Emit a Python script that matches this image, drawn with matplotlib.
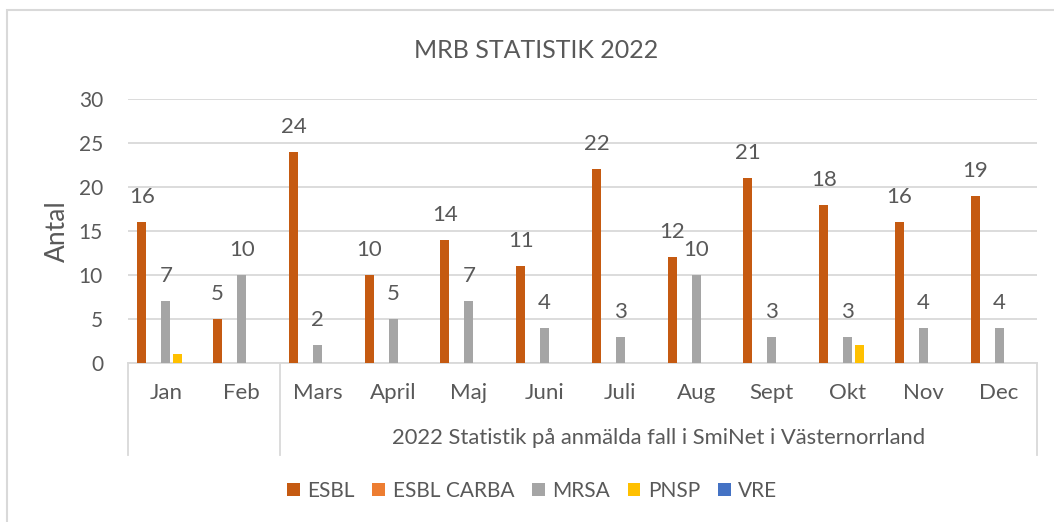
import matplotlib
matplotlib.use("Agg")
import matplotlib.pyplot as plt
import matplotlib.transforms as mtransforms
from matplotlib.lines import Line2D
from matplotlib.patches import Rectangle, Patch
import numpy as np

months = ["Jan", "Feb", "Mars", "April", "Maj", "Juni", "Juli", "Aug", "Sept", "Okt", "Nov", "Dec"]
group_label = "2022 Statistik på anmälda fall i SmiNet i Västernorrland"
series_names = ["ESBL", "ESBL CARBA", "MRSA", "PNSP", "VRE"]
esbl = [16, 5, 24, 10, 14, 11, 22, 12, 21, 18, 16, 19]
esbl_carba = [0, 0, 0, 0, 0, 0, 0, 0, 0, 0, 0, 0]
mrsa = [7, 10, 2, 5, 7, 4, 3, 10, 3, 3, 4, 4]
pnsp = [1, 0, 0, 0, 0, 0, 0, 0, 0, 2, 0, 0]
vre = [0, 0, 0, 0, 0, 0, 0, 0, 0, 0, 0, 0]
colors = ["#C55A11", "#ED7D31", "#A5A5A5", "#FFC000", "#4472C4"]
labeled = [True, False, True, False, False]

plt.rcParams['font.family'] = ['Lato', 'DejaVu Sans']
txt = "#595959"
grid = "#D9D9D9"
FS = 15

W, H = 1054, 522
fig = plt.figure(figsize=(W / 100, H / 100), dpi=100)
L, R, T, B = 128, 1037, 99, 363
ax = fig.add_axes([L / W, 1 - B / H, (R - L) / W, (B - T) / H])

x = np.arange(len(months))
slot = 0.158
bw = 0.12
all_series = [esbl, esbl_carba, mrsa, pnsp, vre]
for i, (vals, c, lab) in enumerate(zip(all_series, colors, labeled)):
    pos = x + (i - 2) * slot
    ax.bar(pos, vals, width=bw, color=c, zorder=3)
    if lab:
        for p, v in zip(pos, vals):
            if v:
                ax.annotate(str(v), (p, v), xytext=(0, 18), textcoords="offset points",
                            ha="center", va="center", fontsize=FS + 1, color=txt)

ax.set_xlim(-0.5, 11.5)
ax.set_ylim(0, 30)
ax.set_yticks([0, 5, 10, 15, 20, 25, 30])
ax.yaxis.grid(True, color=grid, lw=1.3, zorder=0)
ax.set_axisbelow(True)
for s in ["top", "right", "left"]:
    ax.spines[s].set_visible(False)
ax.spines["bottom"].set_color(grid)
ax.spines["bottom"].set_linewidth(1.3)
ax.tick_params(axis="y", length=0, pad=18, labelsize=FS, labelcolor=txt)
ax.set_xticks([])
fig.text(57 / W, 1 - 231 / H, "Antal", rotation=90, ha="center", va="center",
         fontsize=19, color=txt)

# multi-level category axis
bt = mtransforms.blended_transform_factory(ax.transData, ax.transAxes)
ybot = (B - 455) / (B - T)
for xs in [-0.5, 1.5, 11.5]:
    ax.add_line(Line2D([xs, xs], [0, ybot], transform=bt, color=grid, lw=1.3, clip_on=False))
ymon = (B - 393) / (B - T)
for xi, m in zip(x, months):
    ax.text(xi, ymon, m, transform=bt, ha="center", va="center", fontsize=16, color=txt)
ygrp = (B - 438) / (B - T)
ax.text((1.5 + 11.5) / 2, ygrp, group_label, transform=bt, ha="center", va="center",
        fontsize=15.8, color=txt)

fig.text(536.5 / W, 1 - 51 / H, "MRB STATISTIK 2022", ha="center", va="center",
         fontsize=18, color=txt)

handles = [Patch(facecolor=c, edgecolor="none") for c in colors]
fig.legend(handles, series_names, loc="center", bbox_to_anchor=(532 / W, 1 - 491 / H),
           ncol=5, frameon=False, fontsize=FS, labelcolor=txt, handlelength=0.62,
           handleheight=0.62, handletextpad=0.35, columnspacing=0.85)

fig.patches.append(Rectangle((7 / W, -0.1), 2, 1.1 - 10 / H, transform=fig.transFigure,
                             facecolor="none", edgecolor=grid, lw=1.5))

fig.savefig("out.png", dpi=100)
